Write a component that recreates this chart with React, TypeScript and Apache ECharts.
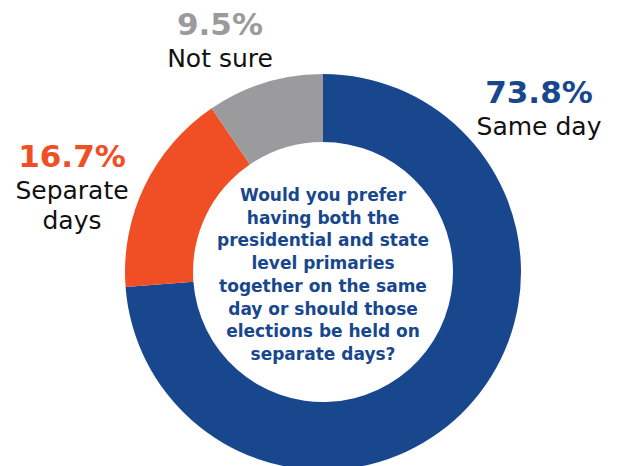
import React, { useEffect, useRef } from "react";
import * as echarts from "echarts";

const categories = ["Same day", "Separate days", "Not sure"];
const values = [73.8, 16.7, 9.5];
const colors = ["#18478D", "#F04E24", "#9B9B9D"];
const labelLines = [["Same day"], ["Separate", "days"], ["Not sure"]];
const question = [
  "Would you prefer",
  "having both the",
  "presidential and state",
  "level primaries",
  "together on the same",
  "day or should those",
  "elections be held on",
  "separate days?",
];

const FONT = "'DejaVu Sans', 'Noto Sans', sans-serif";

export default function App() {
  const ref = useRef<HTMLDivElement>(null);
  useEffect(() => {
    if (!ref.current) return;
    const chart = echarts.init(ref.current, null, { renderer: "svg" });
    const labelPos = [
      { x: 539, y: 92 },
      { x: 72, y: 156 },
      { x: 220, y: 24 },
    ];
    const graphics: any[] = [];
    categories.forEach((c, i) => {
      const p = labelPos[i];
      graphics.push({
        type: "text",
        x: p.x,
        y: p.y,
        style: {
          text: values[i].toFixed(1) + "%",
          fill: colors[i],
          font: `bold 31px ${FONT}`,
          textAlign: "center",
          textVerticalAlign: "middle",
        },
      });
      labelLines[i].forEach((ln, j) => {
        graphics.push({
          type: "text",
          x: p.x,
          y: p.y + 34 + j * 30,
          style: {
            text: ln,
            fill: "#111111",
            font: `25px ${FONT}`,
            textAlign: "center",
            textVerticalAlign: "middle",
          },
        });
      });
    });
    question.forEach((q, i) => {
      graphics.push({
        type: "text",
        x: 323,
        y: 195 + i * 22.7,
        style: {
          text: q,
          fill: "#18478D",
          font: `bold 17px ${FONT}`,
          textAlign: "center",
          textVerticalAlign: "middle",
        },
      });
    });
    chart.setOption({
      animation: false,
      series: [
        {
          type: "pie",
          center: [323, 272],
          radius: [130, 198],
          startAngle: 90,
          clockwise: true,
          label: { show: false },
          labelLine: { show: false },
          emphasis: { disabled: true },
          data: categories.map((c, i) => ({
            name: c,
            value: values[i],
            itemStyle: { color: colors[i] },
          })),
        },
      ],
      graphic: graphics,
    });
    return () => chart.dispose();
  }, []);
  return (
    <div
      ref={ref}
      style={{ position: "fixed", left: 0, top: 0, width: 618, height: 466, background: "#fff" }}
    />
  );
}
